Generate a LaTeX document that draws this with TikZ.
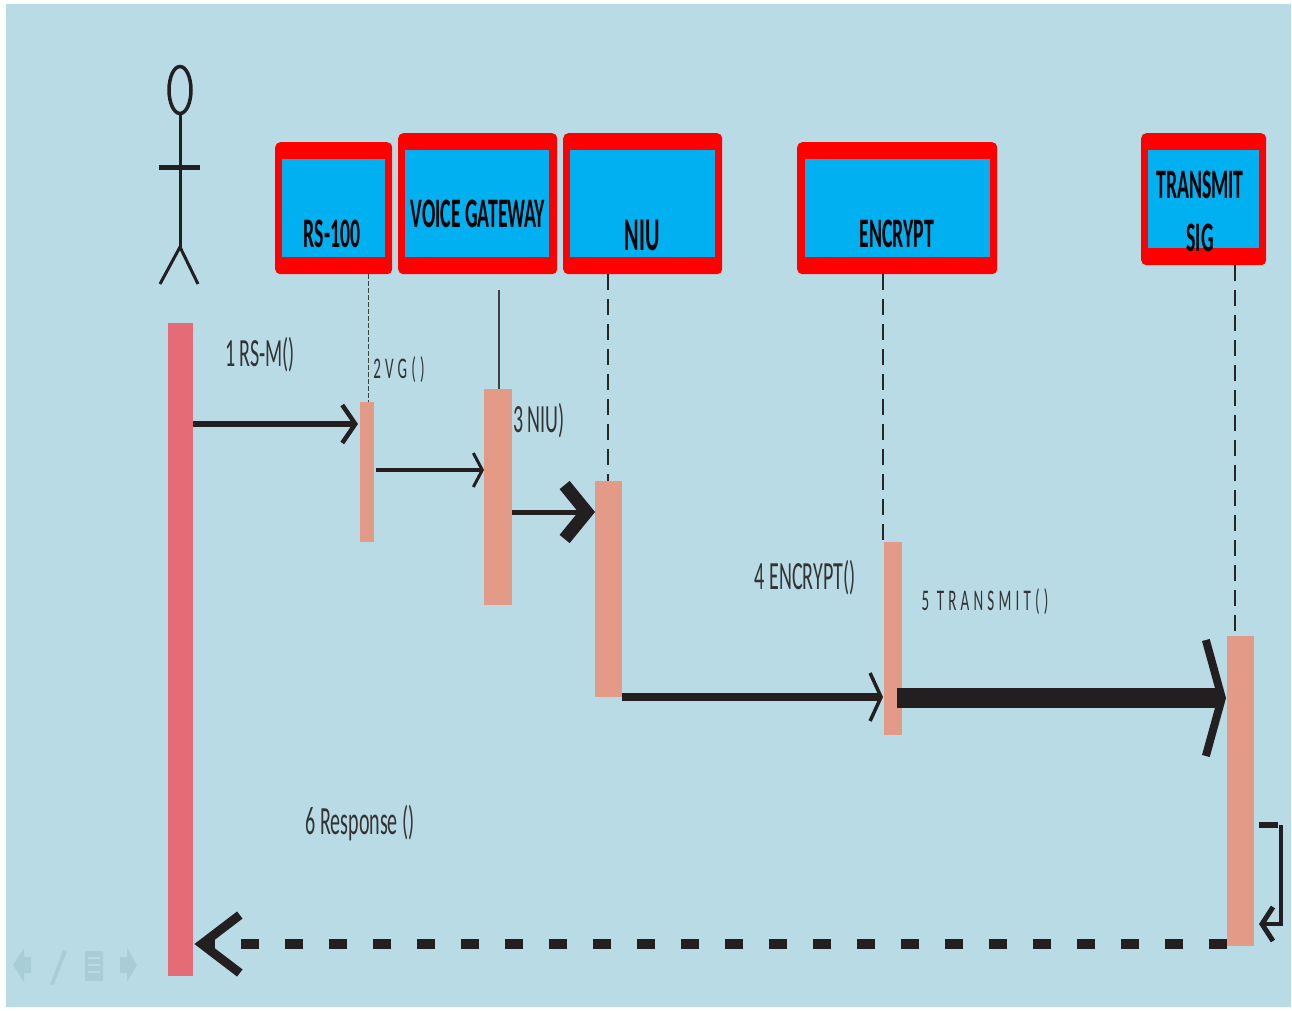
\documentclass[tikz,border=0pt]{standalone}
\usepackage{fontspec}
\usepackage{tikz}
\usetikzlibrary{arrows.meta,positioning,shapes.geometric}
\newfontfamily\headfont[FakeStretch=0.47]{Carlito}
\newfontfamily\msgfont[FakeStretch=0.5]{Carlito}
\newfontfamily\widefont[LetterSpace=14,FakeStretch=0.5]{Carlito}
\definecolor{panelblue}{HTML}{B9DBE6}
\definecolor{headblue}{HTML}{00B0F0}
\definecolor{barsalmon}{HTML}{E39A86}
\definecolor{barrose}{HTML}{E56B76}
\definecolor{inkblack}{HTML}{231F20}
\definecolor{navgrey}{HTML}{A8CDD6}

\begin{document}
\begin{tikzpicture}[
    x=1pt,
    y=-1pt,
    redbox/.style={
        fill=red,
        rounded corners=5pt,
        inner sep=0pt,
        anchor=north west
    },
    bluebox/.style={
        fill=headblue,
        inner sep=0pt,
        anchor=north west
    },
    headtext/.style={
        inner sep=0pt,
        align=center,
        text=black,
        font=\headfont\bfseries\fontsize{42}{53}\selectfont
    },
    msgtext/.style={
        inner sep=0pt,
        text=black!80,
        font=\msgfont\fontsize{40}{44}\selectfont
    },
    widetext/.style={
        inner sep=0pt,
        text=black!80,
        font=\widefont\fontsize{30}{33}\selectfont
    },
    bar/.style={
        fill=barsalmon,
        inner sep=0pt,
        anchor=north west
    },
    lifeline/.style={black!85, line width=1.6pt, dash pattern=on 16pt off 9pt},
    msg/.style={inkblack, line width=5pt, -{Straight Barb[length=13pt, width=38pt, line width=4.5pt]}},
    navicon/.style={fill=navgrey, draw=none}
]
\useasboundingbox (0,0) rectangle (1292,1010);
\fill[panelblue] (6,4) rectangle (1291,1007);

% head boxes
\node[redbox, minimum width=117pt, minimum height=132pt] (rsred) at (275,142) {};
\node[bluebox, minimum width=103pt, minimum height=98pt] (rsblue) at (282,159) {};
\node[redbox, minimum width=159pt, minimum height=141pt] (vgred) at (398,133) {};
\node[bluebox, minimum width=144pt, minimum height=107pt] (vgblue) at (405,150) {};
\node[redbox, minimum width=159pt, minimum height=141pt] (niured) at (563,133) {};
\node[bluebox, minimum width=145pt, minimum height=107pt] (niublue) at (570,150) {};
\node[redbox, minimum width=200pt, minimum height=132pt] (encred) at (797,142) {};
\node[bluebox, minimum width=185pt, minimum height=98pt] (encblue) at (805,159) {};
\node[redbox, minimum width=125pt, minimum height=132pt] (sigred) at (1141,133) {};
\node[bluebox, minimum width=111pt, minimum height=98pt] (sigblue) at (1148,150) {};

\node[headtext] (rstext) at (332,234) {RS-100};
\node[headtext] (vgtext) at (478,214) {VOICE GATEWAY};
\node[headtext, font=\headfont\bfseries\fontsize{47}{53}\selectfont] (niutext) at (642,235) {NIU};
\node[headtext] (enctext) at (897,234) {ENCRYPT};
\node[headtext] (sigtext) at (1200,211) {TRANSMIT\\SIG};

% activation bars
\node[bar, fill=barrose, minimum width=25pt, minimum height=653pt] (user) at (168,323) {};
\node[bar, minimum width=14pt, minimum height=140pt] (rsbar) at (360,402) {};
\node[bar, minimum width=28pt, minimum height=216pt] (vgbar) at (484,389) {};
\node[bar, minimum width=27pt, minimum height=216pt] (niubar) at (595,481) {};
\node[bar, minimum width=18pt, minimum height=193pt] (encbar) at (884,542) {};
\node[bar, minimum width=27pt, minimum height=310pt] (sigbar) at (1227,636) {};

% actor
\node[draw=inkblack, line width=3.5pt, ellipse, inner sep=0pt, minimum width=22pt, minimum height=47pt] (head) at (180,90) {};
\coordinate (hip) at (180,247);
\coordinate (armL) at (159,167);
\coordinate (armR) at (200,167);
\coordinate (footL) at (160,284);
\coordinate (footR) at (198,284);
\draw[inkblack, line width=3pt] (head.south) -- (hip);
\draw[inkblack, line width=5pt] (armL) -- (armR);
\draw[inkblack, line width=3pt] (footL) -- (hip) -- (footR);

% lifelines
\coordinate (vgtop) at (499,290);
\draw[black!75, line width=1pt, dash pattern=on 5pt off 2pt] (368,274) -- (368,402);
\draw[black!75, line width=1.2pt] (vgtop) -- (vgtop |- vgbar.north);
\draw[lifeline] (608,274) -- (608,481);
\draw[lifeline] (883,274) -- (883,542);
\draw[lifeline] (1235,265) -- (1235,636);

% messages
\coordinate (m1) at (0,424);
\coordinate (m2) at (0,470);
\coordinate (m3) at (0,512);
\coordinate (m4) at (0,697);
\coordinate (m5) at (0,698);
\coordinate (m6) at (0,944);
\draw[msg, line width=6pt] (user.east |- m1) -- ([xshift=-2pt]rsbar.west |- m1);
\draw[msg, line width=4.5pt, -{Straight Barb[length=9pt, width=34pt, line width=3pt]}] ([xshift=2pt]rsbar.east |- m2) -- (vgbar.west |- m2);
\draw[msg, -{Straight Barb[length=22pt, width=54pt, line width=13pt]}] (vgbar.east |- m3) -- (niubar.west |- m3);
\draw[msg, line width=8pt, -{Straight Barb[length=11pt, width=48pt, line width=3.5pt]}] (niubar.east |- m4) -- ([xshift=-1pt]encbar.west |- m4);
\draw[msg, line width=20pt, -{Straight Barb[length=16pt, width=116pt, line width=8pt]}] ([xshift=-5pt]encbar.east |- m5) -- ([xshift=-1pt]sigbar.west |- m5);
\draw[msg, line width=10pt, dash pattern=on 18pt off 26pt, -{Straight Barb[length=38pt, width=58pt, line width=9pt]}] (sigbar.west |- m6) -- ([xshift=1pt]user.east |- m6);
\coordinate (loopA) at (1259,825);
\coordinate (loopB) at (1281,825);
\coordinate (loopC) at (1281,924);
\coordinate (loopD) at (1259,924);
\draw[inkblack, line width=6pt] (loopA) -- (1278,825);
\draw[msg, line width=3.5pt, -{Straight Barb[length=11pt, width=34pt, line width=5pt]}] (loopB) -- (loopC) -- (loopD);

% message labels
\node[msgtext] (m1text) at (260,355) {1 RS-M()};
\node[widetext] (m2text) at (399,370) {2VG()};
\node[msgtext] (m3text) at (539,421) {3 NIU)};
\node[msgtext] (m4text) at (805,578) {4 ENCRYPT()};
\node[widetext] (m5text) at (985,602) {5 TRANSMIT()};
\node[msgtext] (m6text) at (360,823) {6 Response ()};

% slide controls
\fill[navicon] (13,965) -- (24,948) -- (24,957) -- (31,957) -- (31,973) -- (24,973) -- (24,982) -- cycle;
\fill[navicon] (50,985) -- (63,950) -- (67,951) -- (54,984) -- cycle;
\fill[navicon, rounded corners=1pt] (85,951) rectangle (103,981);
\foreach \stripe in {958,965,972}
    \draw[panelblue, line width=2pt] (88,\stripe) -- (100,\stripe);
\fill[navicon] (137,965) -- (127,948) -- (127,957) -- (120,957) -- (120,973) -- (127,973) -- (127,982) -- cycle;
\end{tikzpicture}
\end{document}
